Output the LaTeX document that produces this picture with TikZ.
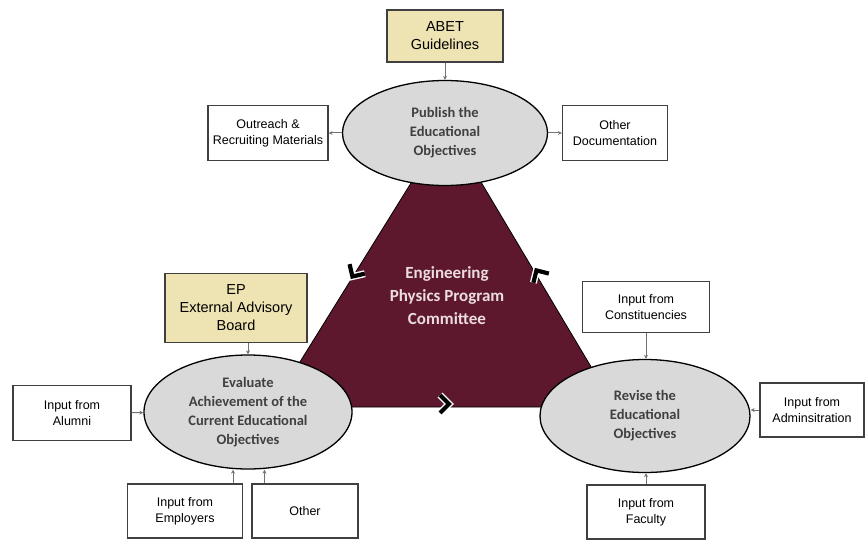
\documentclass[tikz,border=0pt]{standalone}
\usepackage{fontspec}
\setmainfont{Liberation Sans}
\newfontfamily\calibfont{Carlito}
\usetikzlibrary{shapes.geometric,arrows.meta}
\definecolor{maroon}{RGB}{94,24,46}
\definecolor{parch}{RGB}{238,227,178}
\definecolor{mist}{RGB}{217,217,217}
\definecolor{blush}{RGB}{234,220,224}
\begin{document}
\begin{tikzpicture}[
    x=1pt,y=-1pt,
    inbox/.style={draw=black!75,line width=1.1pt,fill=white,align=center,inner sep=0pt,
      font=\fontsize{12.5}{16}\selectfont},
    guide/.style={inbox,fill=parch,font=\fontsize{14.5}{18}\selectfont},
    goal/.style={ellipse,draw=black,line width=1.3pt,fill=mist,align=center,inner sep=0pt,
      text=black!75,font=\calibfont\bfseries\fontsize{14.5}{19}\selectfont},
    feed/.style={draw=black!55,line width=1pt,-{Stealth[length=4pt,width=4pt]}},
    chevron/.style={line width=4.2pt,miter limit=10,preaction={draw=white,line width=7pt}}
  ]
  \useasboundingbox (0,0) rectangle (866,540);
  % committee triangle, drawn first so the ellipses sit on its corners
  \coordinate (apex) at (447,125);
  \coordinate (left) at (272,407);
  \coordinate (right) at (615,407);
  \filldraw[fill=maroon,draw=black,line width=0.8pt] (apex) -- (left) -- (right) -- cycle;
  \node[align=center,text=blush,font=\calibfont\bfseries\fontsize{17}{23}\selectfont]
    (committee) at (447,296) {Engineering\\Physics Program\\Committee};
  % flow markers along the edges
  \draw[chevron,shift={(354,274)},rotate=-122] (-6,-9) -- (3,0) -- (-6,9);
  \draw[chevron,shift={(446,404)}] (-6,-9) -- (3,0) -- (-6,9);
  \draw[chevron,shift={(538,273)},rotate=121] (-6,-9) -- (3,0) -- (-6,9);

  % publish step
  \node[guide,minimum width=116,minimum height=52] (abet) at (445,36) {ABET\\Guidelines};
  \node[goal,minimum width=205,minimum height=105] (publish) at (445,133) {Publish the\\Educational\\Objectives};
  \node[inbox,minimum width=120,minimum height=55] (outreach) at (268,133) {Outreach \&\\Recruiting Materials};
  \node[inbox,minimum width=105,minimum height=55] (otherdoc) at (615,133) {Other\\Documentation};
  \draw[feed] (abet) -- (publish);
  \draw[feed] (publish) -- (outreach);
  \draw[feed] (publish) -- (otherdoc);

  % evaluate step
  \node[guide,minimum width=142,minimum height=69] (board) at (236,308) {EP\\External Advisory\\Board};
  \node[goal,minimum width=208,minimum height=114] (evaluate) at (248,412)
    {Evaluate\\Achievement of the\\Current Educational\\Objectives};
  \node[inbox,minimum width=118,minimum height=55] (alumni) at (72,413) {Input from\\Alumni};
  \node[inbox,minimum width=115,minimum height=54] (employers) at (185,511) {Input from\\Employers};
  \node[inbox,minimum width=106,minimum height=54] (other) at (305,511) {Other};
  \draw[feed] (board.south -| evaluate.north) -- (evaluate.north);
  \draw[feed] (alumni) -- (evaluate);
  \draw[feed] ([xshift=-10pt]employers.north east) -- ([xshift=-10pt]employers.north east |- evaluate.south);
  \draw[feed] ([xshift=13pt]other.north west) -- ([xshift=13pt]other.north west |- evaluate.south);

  % revise step
  \node[goal,minimum width=210,minimum height=113] (revise) at (645,416) {Revise the\\Educational\\Objectives};
  \node[inbox,minimum width=127,minimum height=51] (constit) at (646,307) {Input from\\Constituencies};
  \node[inbox,minimum width=104,minimum height=54] (admin) at (812,410) {Input from\\Adminsitration};
  \node[inbox,minimum width=118,minimum height=54] (faculty) at (646,512) {Input from\\Faculty};
  \draw[feed] (constit) -- (constit |- revise.north);
  \draw[feed] (admin) -- (admin -| revise.east);
  \draw[feed] (faculty) -- (faculty |- revise.south);
\end{tikzpicture}
\end{document}
